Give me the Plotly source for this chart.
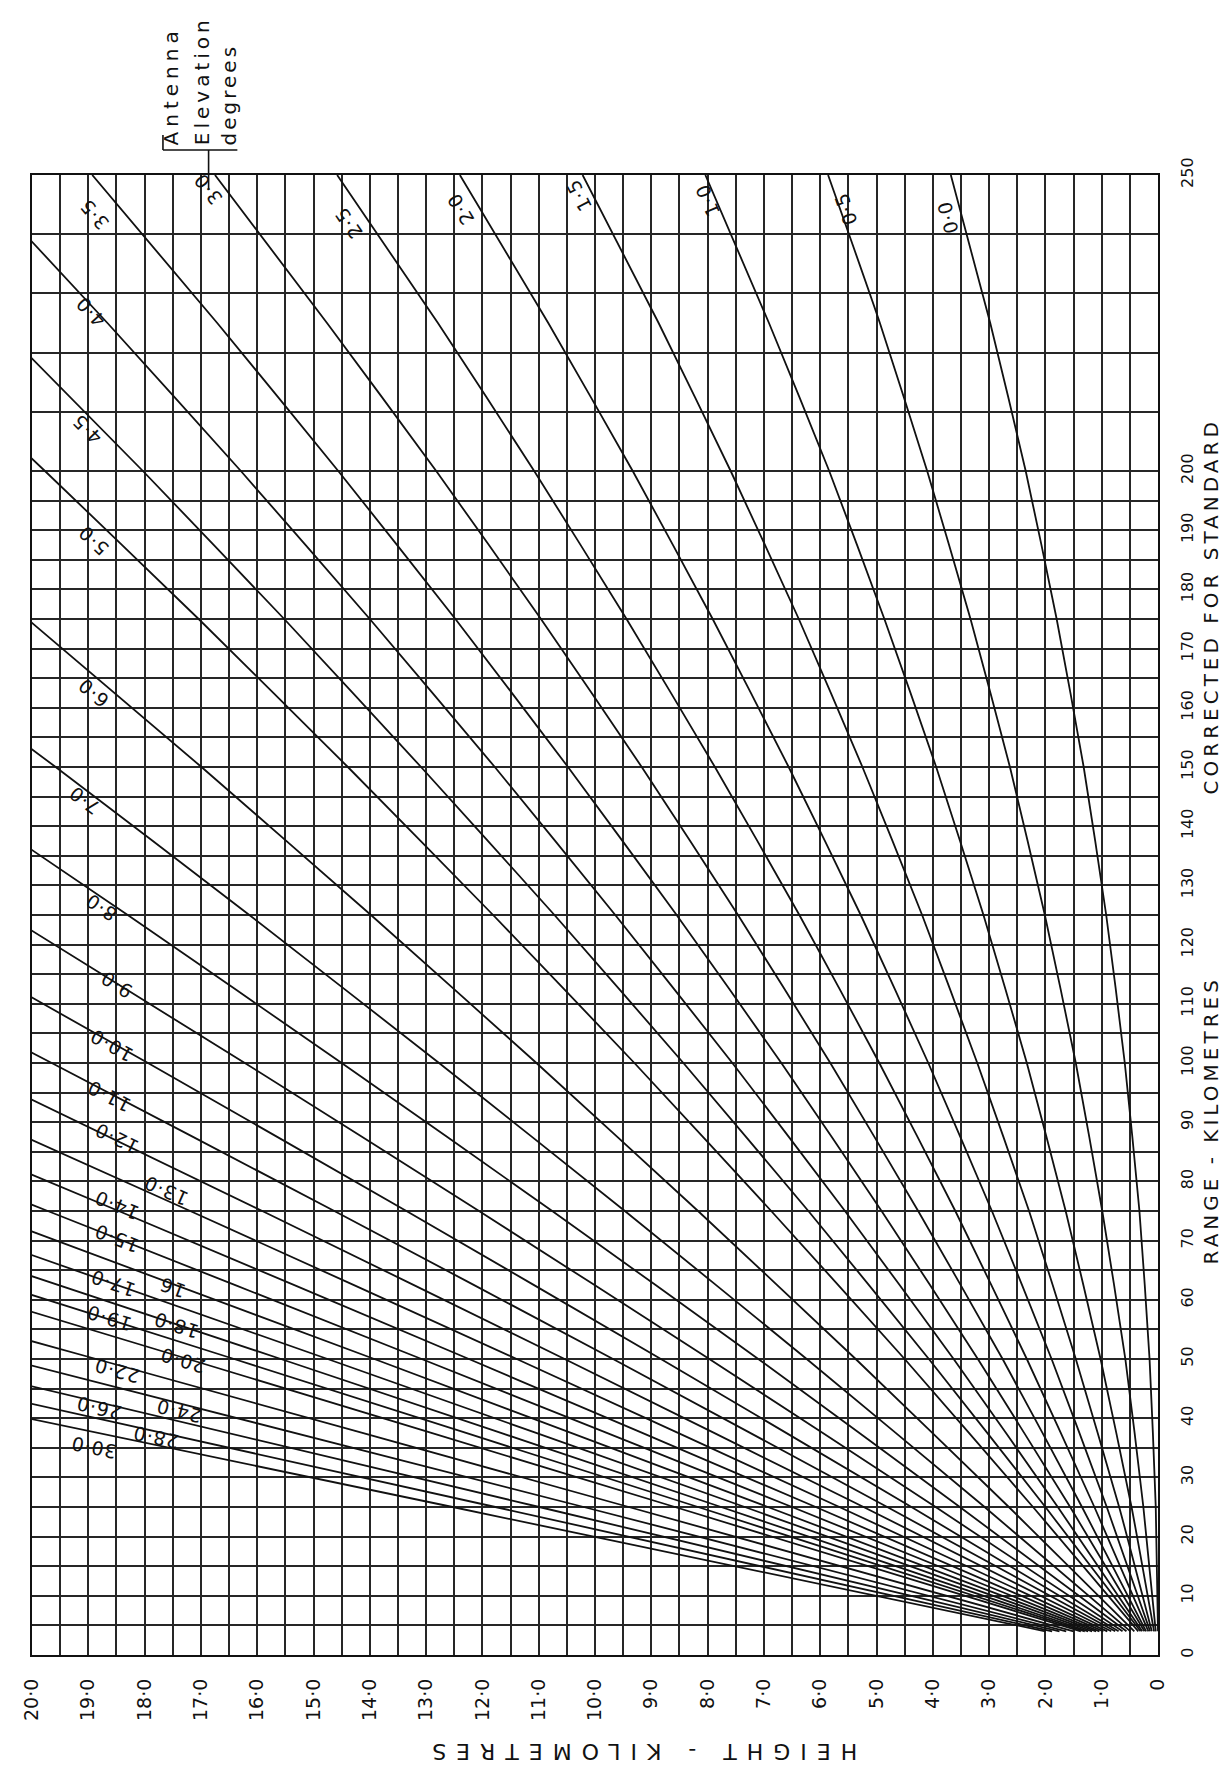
import math
import numpy as np
import plotly.graph_objects as go

# ---------------- data ----------------
range_nodes = [4, 25, 50, 75, 100, 125, 150, 175, 200, 225, 250]

elevations = [0.0, 0.5, 1.0, 1.5, 2.0, 2.5, 3.0, 3.5, 4.0, 4.5, 5.0, 6.0, 7.0, 8.0, 9.0,
              10.0, 11.0, 12.0, 13.0, 14.0, 15.0, 16.0, 17.0, 18.0, 19.0, 20.0,
              22.0, 24.0, 26.0, 28.0, 30.0]

h_00 = [0.00, 0.04, 0.15, 0.33, 0.59, 0.92, 1.32, 1.80, 2.35, 2.98, 3.68]
h_05 = [0.04, 0.26, 0.58, 0.99, 1.46, 2.01, 2.63, 3.33, 4.10, 4.94, 5.86]
h_10 = [0.07, 0.47, 1.02, 1.64, 2.33, 3.10, 3.94, 4.86, 5.84, 6.91, 8.04]
h_15 = [0.11, 0.69, 1.46, 2.29, 3.21, 4.19, 5.25, 6.38, 7.59, 8.87, 10.22]
h_20 = [0.14, 0.91, 1.89, 2.95, 4.08, 5.28, 6.56, 7.91, 9.33, 10.83, 12.40]
h_25 = [0.17, 1.13, 2.33, 3.60, 4.95, 6.37, 7.87, 9.44, 11.08, 12.79, 14.58]
h_30 = [0.21, 1.35, 2.76, 4.26, 5.82, 7.46, 9.17, 10.96, 12.82, 14.76, 16.75]
h_35 = [0.24, 1.56, 3.20, 4.91, 6.69, 8.55, 10.48, 12.48, 14.56, 16.71, 18.93]
h_40 = [0.28, 1.78, 3.63, 5.56, 7.56, 9.64, 11.78, 14.00, 16.29, 18.66, 21.10]
h_45 = [0.31, 2.00, 4.07, 6.21, 8.43, 10.72, 13.09, 15.52, 18.03, 20.62]
h_50 = [0.35, 2.22, 4.50, 6.87, 9.30, 11.81, 14.39, 17.04, 19.77, 22.57]
h_60 = [0.42, 2.65, 5.37, 8.17, 11.04, 13.98, 16.99, 20.08]
h_70 = [0.49, 3.08, 6.24, 9.47, 12.77, 16.14, 19.58, 23.10]
h_80 = [0.56, 3.52, 7.10, 10.76, 14.50, 18.30, 22.17]
h_90 = [0.63, 3.95, 7.97, 12.06, 16.22, 20.45]
h_100 = [0.70, 4.38, 8.83, 13.35, 17.94, 22.60]
h_110 = [0.76, 4.81, 9.68, 14.63, 19.65, 24.74]
h_120 = [0.83, 5.23, 10.54, 15.91, 21.35]
h_130 = [0.90, 5.66, 11.39, 17.19, 23.05]
h_140 = [0.97, 6.08, 12.24, 18.46, 24.75]
h_150 = [1.04, 6.50, 13.08, 19.72, 26.43]
h_160 = [1.10, 6.93, 13.92, 20.98]
h_170 = [1.17, 7.34, 14.75, 22.23]
h_180 = [1.24, 7.76, 15.58, 23.48]
h_190 = [1.30, 8.17, 16.41, 24.71]
h_200 = [1.37, 8.58, 17.23, 25.94]
h_220 = [1.50, 9.40, 18.86, 28.38]
h_240 = [1.63, 10.20, 20.46]
h_260 = [1.75, 10.99, 22.04]
h_280 = [1.88, 11.77, 23.59]
h_300 = [2.00, 12.53, 25.11]

curve_heights = [h_00, h_05, h_10, h_15, h_20, h_25, h_30, h_35, h_40, h_45, h_50,
                 h_60, h_70, h_80, h_90, h_100, h_110, h_120, h_130, h_140, h_150,
                 h_160, h_170, h_180, h_190, h_200, h_220, h_240, h_260, h_280, h_300]

label_text = ["0·0", "0·5", "1·0", "1·5", "2·0", "2·5", "3·0", "3·5", "4·0", "4·5", "5·0",
              "6·0", "7·0", "8·0", "9·0", "10·0", "11·0", "12·0", "13·0", "14·0", "15·0",
              "16", "17·0", "18·0", "19·0", "20·0", "22·0", "24·0", "26·0", "28·0", "30·0"]
label_h = [3.74, 5.54, 7.99, 10.29, 12.38, 14.38, 16.87, 18.90, 18.97, 19.03, 18.91,
           18.91, 19.07, 18.77, 18.50, 18.59, 18.63, 18.50, 17.62, 18.50, 18.50,
           17.50, 18.56, 17.44, 18.63, 17.32, 18.50, 17.39, 18.80, 17.80, 18.91]
label_r = [242.8, 244.2, 245.7, 246.6, 244.2, 241.9, 247.6, 243.4, 226.9, 207.0, 188.2,
           162.5, 144.3, 126.2, 113.2, 103.0, 94.4, 87.3, 78.4, 76.0, 70.4,
           62.0, 62.8, 55.7, 56.9, 49.7, 48.0, 41.2, 41.7, 36.7, 35.0]

height_ticks = list(range(0, 21))
height_tick_text = ["0" if v == 0 else f"{v}·0" for v in height_ticks]
range_ticks = [0, 10, 20, 30, 40, 50, 60, 70, 80, 90, 100, 110, 120, 130, 140, 150,
               160, 170, 180, 190, 200, 250]
range_tick_text = [str(v) for v in range_ticks]
range_minor = [v for v in range(5, 200, 10)] + [210, 220, 230, 240]

# ---------------- layout constants ----------------
W, H = 1231, 1776
ML, MR, MT, MB = 15, 81, 167, 129
PW, PH = W - ML - MR, H - MT - MB
FONT = "DejaVu Sans"
INK = "#111111"
GRID = "#262626"

fig = go.Figure()
for elev, hs in zip(elevations, curve_heights):
    fig.add_trace(go.Scatter(
        x=hs, y=range_nodes[:len(hs)], mode="lines",
        line=dict(color=INK, width=1.8, shape="spline", smoothing=0.5),
        hoverinfo="skip", showlegend=False, name=f"{elev}°"))

# curve labels, rotated along the local slope of each curve
px_h = PW / 20.0
px_r = PH / 250.0
annotations = []
for txt, lh, lr, hs in zip(label_text, label_h, label_r, curve_heights):
    rr = np.array(range_nodes[:len(hs)], dtype=float)
    hh = np.array(hs, dtype=float)
    i = int(np.clip(np.searchsorted(rr, lr), 1, len(rr) - 1))
    m = (hh[i] - hh[i - 1]) / (rr[i] - rr[i - 1])
    ang = math.degrees(math.atan2(-px_r, -m * px_h))
    annotations.append(dict(x=lh, y=lr, xref="x", yref="y",
                            text=f'<span style="letter-spacing:1px">{txt}</span>',
                            showarrow=False, textangle=ang,
                            font=dict(family=FONT, size=19, color=INK)))

def paper_x(px):
    return (px - ML) / PW

def paper_y(py):
    return (H - MB - py) / PH

# axis titles
annotations.append(dict(x=paper_x(1218), y=paper_y(1112), xref="paper", yref="paper",
                        text='<span style="letter-spacing:4px">RANGE - KILOMETRES</span>',
                        textangle=-90, showarrow=False,
                        font=dict(family=FONT, size=20, color=INK)))
annotations.append(dict(x=paper_x(1218), y=paper_y(408), xref="paper", yref="paper",
                        text='<span style="letter-spacing:4px">CORRECTED FOR STANDARD</span>',
                        textangle=-90, showarrow=False,
                        font=dict(family=FONT, size=20, color=INK)))
annotations.append(dict(x=paper_x(628), y=paper_y(1758), xref="paper", yref="paper",
                        text='<span style="letter-spacing:10px">HEIGHT - KILOMETRES</span>',
                        textangle=180, showarrow=False,
                        font=dict(family=FONT, size=22, color=INK)))
for txt, cx, sp in [("Antenna", 156, 5), ("Elevation", 187, 4), ("degrees", 214, 3)]:
    annotations.append(dict(x=paper_x(cx), y=paper_y(139), xref="paper", yref="paper",
                            text=f'<span style="letter-spacing:{sp}px">{txt}</span>',
                            textangle=-90, showarrow=False, xanchor="center",
                            yanchor="bottom",
                            font=dict(family=FONT, size=20, color=INK)))

shapes = [
    dict(type="line", xref="paper", yref="paper", x0=paper_x(147), x1=paper_x(222),
         y0=paper_y(142), y1=paper_y(142), line=dict(color=INK, width=1.6)),
    dict(type="line", xref="paper", yref="paper", x0=paper_x(147), x1=paper_x(147),
         y0=paper_y(127), y1=paper_y(142), line=dict(color=INK, width=1.6)),
    dict(type="line", xref="paper", yref="paper", x0=paper_x(193), x1=paper_x(193),
         y0=paper_y(142), y1=paper_y(182), line=dict(color=INK, width=1.6)),
]

fig.update_layout(
    width=W, height=H,
    margin=dict(l=ML, r=MR, t=MT, b=MB, pad=0),
    paper_bgcolor="white", plot_bgcolor="white",
    showlegend=False,
    annotations=annotations,
    shapes=shapes,
    xaxis=dict(
        range=[20, 0], tickmode="array", tickvals=height_ticks, ticktext=height_tick_text,
        tickangle=-90, ticks="", ticklabelstandoff=14,
        tickfont=dict(family=FONT, size=19, color=INK),
        showgrid=True, gridcolor=GRID, gridwidth=1.5, zeroline=False,
        showline=True, linecolor=INK, linewidth=2.2, mirror=True,
        minor=dict(dtick=0.5, tick0=0, showgrid=True, gridcolor=GRID, gridwidth=1.5),
    ),
    yaxis=dict(
        range=[0, 250], side="right", tickmode="array", tickvals=range_ticks,
        ticktext=range_tick_text, tickangle=-90, ticks="", ticklabelstandoff=14,
        tickfont=dict(family=FONT, size=16, color=INK),
        showgrid=True, gridcolor=GRID, gridwidth=1.5, zeroline=False,
        showline=True, linecolor=INK, linewidth=2.2, mirror=True,
        minor=dict(tickmode="array", tickvals=range_minor, showgrid=True,
                   gridcolor=GRID, gridwidth=1.5),
    ),
)

fig.write_html("out.html")
